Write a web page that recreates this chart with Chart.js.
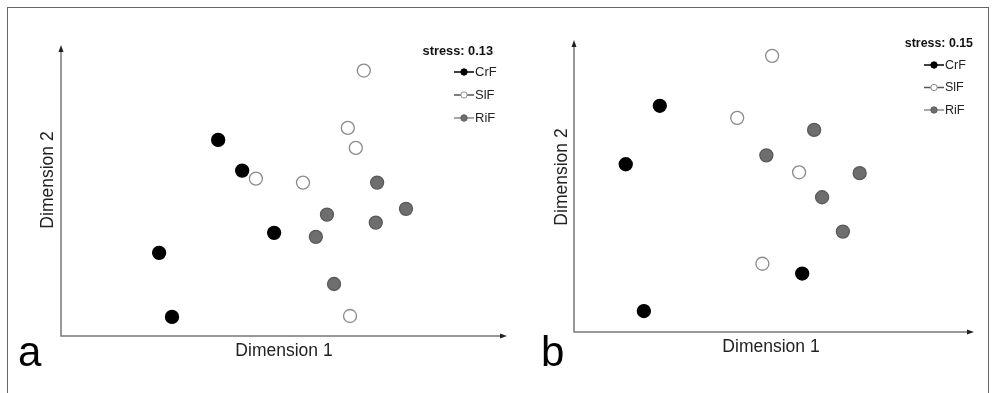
<!DOCTYPE html>
<html lang="en">
<head>
  <meta charset="UTF-8" />
  <title>NMDS ordination</title>
  <script src="https://cdn.jsdelivr.net/npm/chart.js"></script>
  <style>
    html, body { margin: 0; padding: 0; background: #fff; }
    #wrap { position: relative; width: 994px; height: 393px; overflow: hidden; }
    #wrap canvas { position: absolute; left: 0; top: 0; }
    #frame { position: absolute; left: 7px; top: 7px; width: 982px; height: 390px; border: 1.5px solid #666; box-sizing: border-box; }
  </style>
</head>
<body>
  <div id="wrap">
    <div id="frame"></div>
    <canvas id="chartA" width="994" height="393"></canvas>
    <canvas id="chartB" width="994" height="393"></canvas>
  </div>

  <script>
    // series names
    const groups = ['CrF', 'SlF', 'RiF'];

    // panel a (stress 0.13) - dimension 1 / dimension 2 scores
    const aCrFx = [3.54, 4.08, 4.80, 2.21, 2.50];
    const aCrFy = [4.41, 3.72, 2.32, 1.87, 0.43];
    const aSlFx = [6.82, 6.46, 6.64, 4.39, 5.45, 6.51];
    const aSlFy = [5.97, 4.68, 4.23, 3.54, 3.45, 0.45];
    const aRiFx = [7.12, 7.77, 5.99, 7.09, 5.74, 6.15];
    const aRiFy = [3.45, 2.86, 2.73, 2.55, 2.23, 1.17];

    // panel b (stress 0.15)
    const bCrFx = [1.94, 1.17, 5.16, 1.58];
    const bCrFy = [5.07, 3.76, 1.31, 0.47];
    const bSlFx = [4.48, 3.69, 5.09, 4.26];
    const bSlFy = [6.19, 4.80, 3.58, 1.53];
    const bRiFx = [5.43, 4.35, 6.46, 5.61, 6.08];
    const bRiFy = [4.53, 3.96, 3.56, 3.02, 2.25];

    const font = '"Liberation Sans", Arial, sans-serif';

    const styles = {
      CrF: { fill: '#000000', stroke: '#000000', line: '#000000' },
      SlF: { fill: '#ffffff', stroke: '#8a8a8a', line: '#555555' },
      RiF: { fill: '#6e6e6e', stroke: '#5a5a5a', line: '#8a8a8a' }
    };

    function pts(xs, ys) {
      return xs.map((x, i) => ({ x: x, y: ys[i] }));
    }

    function makeDataset(name, xs, ys) {
      const s = styles[name];
      return {
        label: name,
        data: pts(xs, ys),
        backgroundColor: s.fill,
        borderColor: s.stroke,
        borderWidth: 1.3,
        pointRadius: 6.5,
        pointHoverRadius: 6.5,
        clip: false
      };
    }

    // axes with arrows, axis titles, panel letter and the legend box
    const decor = {
      id: 'decor',
      afterDraw(chart, args, opts) {
        const c = chart.ctx;
        const a = chart.chartArea;
        c.save();
        c.strokeStyle = '#777';
        c.fillStyle = '#777';
        c.lineWidth = 1.5;
        c.beginPath();
        c.moveTo(a.left, a.top + 2);
        c.lineTo(a.left, a.bottom);
        c.lineTo(a.right - 2, a.bottom);
        c.stroke();
        // arrow heads
        c.fillStyle = '#222';
        c.beginPath();
        c.moveTo(a.left, a.top - 2);
        c.lineTo(a.left - 2.5, a.top + 5);
        c.lineTo(a.left + 2.5, a.top + 5);
        c.fill();
        c.beginPath();
        c.moveTo(a.right + 2, a.bottom);
        c.lineTo(a.right - 5, a.bottom - 2.5);
        c.lineTo(a.right - 5, a.bottom + 2.5);
        c.fill();

        // axis titles
        c.fillStyle = '#222';
        c.font = '17.5px ' + font;
        c.textAlign = 'center';
        c.textBaseline = 'middle';
        c.fillText('Dimension 1', opts.xTitle[0], opts.xTitle[1]);
        c.save();
        c.translate(opts.yTitle[0], opts.yTitle[1]);
        c.rotate(-Math.PI / 2);
        c.fillText('Dimension 2', 0, 0);
        c.restore();

        // panel letter
        c.fillStyle = '#000';
        c.font = '42px ' + font;
        c.textAlign = 'left';
        c.textBaseline = 'alphabetic';
        c.fillText(opts.letter, opts.letterPos[0], opts.letterPos[1]);

        // stress + legend
        const L = opts.legend;
        c.fillStyle = '#111';
        c.font = 'bold ' + L.stressSize + 'px ' + font;
        c.textAlign = 'right';
        c.fillText(opts.stress, L.stressRight, L.stressY);
        c.font = L.size + 'px ' + font;
        c.textAlign = 'left';
        c.textBaseline = 'middle';
        chart.data.datasets.forEach((ds, i) => {
          const s = styles[ds.label];
          const y = L.y0 + i * L.gap;
          c.strokeStyle = s.line;
          c.lineWidth = 1.5;
          c.beginPath();
          c.moveTo(L.x, y);
          c.lineTo(L.x + 20, y);
          c.stroke();
          c.beginPath();
          c.arc(L.x + 10, y, 3.2, 0, Math.PI * 2);
          c.fillStyle = s.fill;
          c.fill();
          c.lineWidth = 1;
          c.strokeStyle = s.stroke;
          c.stroke();
          c.fillStyle = '#222';
          c.fillText(ds.label, L.x + 21, y + 0.5);
        });
        c.restore();
      }
    };

    function makeChart(id, sets, xMax, yMax, pad, decorOpts) {
      return new Chart(document.getElementById(id), {
        type: 'scatter',
        data: { datasets: sets },
        options: {
          responsive: false,
          animation: false,
          layout: { padding: pad },
          plugins: {
            legend: { display: false },
            tooltip: { enabled: false },
            decor: decorOpts
          },
          scales: {
            x: { type: 'linear', min: 0, max: xMax, display: false },
            y: { type: 'linear', min: 0, max: yMax, display: false }
          }
        },
        plugins: [decor]
      });
    }

    makeChart('chartA', [
      makeDataset('CrF', aCrFx, aCrFy),
      makeDataset('SlF', aSlFx, aSlFy),
      makeDataset('RiF', aRiFx, aRiFy)
    ], 10, 6.5, { left: 61, top: 47, right: 489, bottom: 57 }, {
      xTitle: [284, 351],
      yTitle: [48, 180],
      letter: 'a',
      letterPos: [18, 366],
      stress: 'stress: 0.13',
      legend: { stressSize: 12.8, stressRight: 493, stressY: 55, size: 13, x: 454, y0: 72, gap: 23 }
    });

    makeChart('chartB', [
      makeDataset('CrF', bCrFx, bCrFy),
      makeDataset('SlF', bSlFx, bSlFy),
      makeDataset('RiF', bRiFx, bRiFy)
    ], 9, 6.5, { left: 574, top: 42, right: 22, bottom: 61 }, {
      xTitle: [771, 347],
      yTitle: [562, 177],
      letter: 'b',
      letterPos: [541, 366],
      stress: 'stress: 0.15',
      legend: { stressSize: 12.4, stressRight: 973, stressY: 47, size: 12.5, x: 924, y0: 65, gap: 22.5 }
    });
  </script>
</body>
</html>
